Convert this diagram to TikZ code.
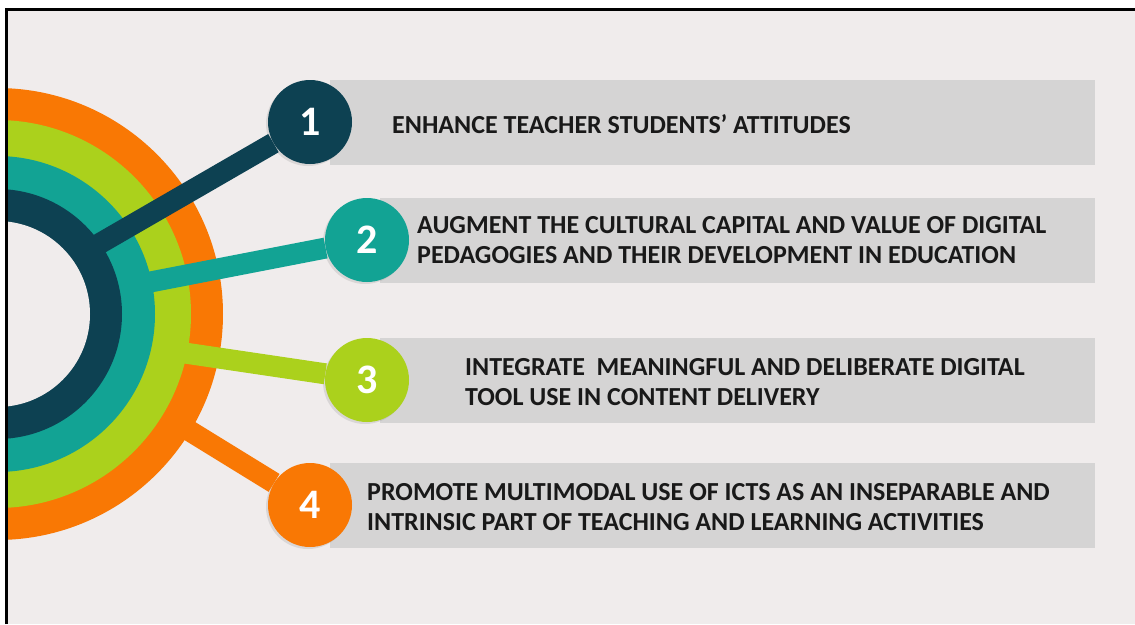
\documentclass[tikz,border=0pt]{standalone}
\usepackage{fontspec}
\setmainfont{Carlito}
\usepackage{tikz}
\usetikzlibrary{shadows}
\definecolor{ringdark}{HTML}{0D4152}
\definecolor{ringteal}{HTML}{12A394}
\definecolor{ringgreen}{HTML}{ABD11C}
\definecolor{ringorange}{HTML}{F97804}
\definecolor{panelgray}{HTML}{D5D4D4}
\definecolor{bgcol}{HTML}{F0ECEC}
\tikzset{numdot/.style={circle,minimum size=84pt,inner sep=0pt,text=white,
           font=\bfseries\fontsize{42}{42}\selectfont,
           drop shadow={opacity=0.2,shadow xshift=-2pt,shadow yshift=-2pt}},
         spoke/.style={line width=21pt},
         goal/.style={anchor=west,align=left,inner sep=0pt,text=black!90,
           font=\bfseries\fontsize{26}{30}\selectfont}}

\begin{document}
\begin{tikzpicture}[x=1pt,y=-1pt]
\useasboundingbox (0,0) rectangle (1135,624);
\fill[white] (0,0) rectangle (1135,624);
\fill[bgcol] (7,10) rectangle (1135,624);
\begin{scope}
\clip (7,10) rectangle (1135,624);
\foreach \r/\c in {226/ringorange,194/ringgreen,158/ringteal,125/ringdark,93/bgcol}
  \fill[\c] (-3,314) circle (\r pt);
\end{scope}
\foreach \y/\x in {80/330,198/380,338/380,463/330}
  \fill[panelgray] (\x,\y) rectangle (1095,\y+85);
% numbered dots
\node[numdot,fill=ringdark] (n1) at (310,122) {1};
\node[numdot,fill=ringteal] (n2) at (367,240) {2};
\node[numdot,fill=ringgreen] (n3) at (367,380) {3};
\node[numdot,fill=ringorange] (n4) at (310,505) {4};
\coordinate (s1) at (92,248);
\coordinate (s2) at (140,284);
\coordinate (s3) at (178,352);
\coordinate (s4) at (180,425);
\draw[spoke,ringdark] (s1) -- (n1);
\draw[spoke,ringteal] (s2) -- (n2);
\draw[spoke,ringgreen] (s3) -- (n3);
\draw[spoke,ringorange] (s4) -- (n4);
% texts
\node[goal] (t1) at (392,124) {ENHANCE TEACHER STUDENTS’ ATTITUDES};
\node[goal] (t2) at (417,240) {AUGMENT THE CULTURAL CAPITAL AND VALUE OF DIGITAL\\PEDAGOGIES AND THEIR DEVELOPMENT IN EDUCATION};
\node[goal] (t3) at (465,382) {INTEGRATE\ \ MEANINGFUL AND DELIBERATE DIGITAL\\TOOL USE IN CONTENT DELIVERY};
\node[goal] (t4) at (367,507) {PROMOTE MULTIMODAL USE OF ICTS AS AN INSEPARABLE AND\\INTRINSIC PART OF TEACHING AND LEARNING ACTIVITIES};
\draw[line width=3pt] (6,624) -- (6,9) -- (1135,9);
\end{tikzpicture}
\end{document}
